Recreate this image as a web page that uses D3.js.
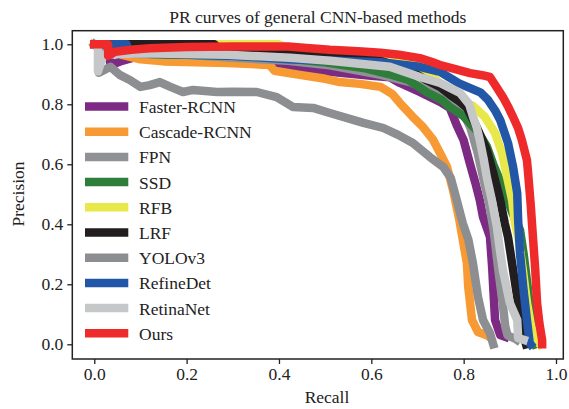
<!DOCTYPE html>
<html>
<head>
<meta charset="utf-8">
<script src="https://cdn.jsdelivr.net/npm/d3@7/dist/d3.min.js"></script>
<style>
  html, body { margin: 0; padding: 0; background: #fff; }
  svg { display: block; }
  text { font-family: "Liberation Serif", "Times New Roman", serif; fill: #222; }
</style>
</head>
<body>
<svg id="chart" width="569" height="409"></svg>
<script>
// Precision-recall pairs per detector: [recall, precision]
const fasterRCNN = [[0,1.0],[0.03,1.0],[0.035,0.93],[0.06,0.945],[0.1,0.962],[0.2,0.955],[0.3,0.945],[0.417,0.924],[0.51,0.908],[0.6,0.895],[0.64,0.89],[0.662,0.871],[0.705,0.841],[0.749,0.808],[0.77,0.788],[0.785,0.73],[0.8,0.68],[0.814,0.6],[0.825,0.54],[0.835,0.48],[0.842,0.424],[0.857,0.358],[0.862,0.25],[0.864,0.191],[0.868,0.081],[0.879,0.031],[0.89,0.025]];
const cascadeRCNN = [[0,1.0],[0.03,0.99],[0.06,0.965],[0.1,0.95],[0.15,0.943],[0.29,0.938],[0.38,0.931],[0.39,0.912],[0.445,0.898],[0.5,0.885],[0.532,0.874],[0.575,0.868],[0.62,0.858],[0.645,0.835],[0.662,0.804],[0.69,0.758],[0.712,0.724],[0.734,0.681],[0.749,0.637],[0.764,0.591],[0.777,0.514],[0.79,0.42],[0.797,0.358],[0.807,0.271],[0.81,0.191],[0.818,0.081],[0.831,0.041],[0.85,0.03],[0.855,0.025]];
const fpn = [[0,1.0],[0.02,0.975],[0.1,0.968],[0.2,0.965],[0.3,0.955],[0.42,0.945],[0.51,0.93],[0.62,0.898],[0.684,0.874],[0.749,0.831],[0.781,0.808],[0.8,0.77],[0.815,0.72],[0.83,0.64],[0.843,0.55],[0.855,0.47],[0.865,0.38],[0.875,0.25],[0.885,0.13],[0.89,0.06],[0.895,0.03],[0.91,0.02],[0.915,0.015]];
const ssd = [[0,1.0],[0.115,1.0],[0.12,0.968],[0.3,0.962],[0.4,0.955],[0.5,0.94],[0.583,0.921],[0.64,0.9],[0.68,0.881],[0.72,0.84],[0.753,0.814],[0.77,0.791],[0.8,0.76],[0.83,0.71],[0.85,0.66],[0.864,0.6],[0.875,0.56],[0.89,0.504],[0.905,0.44],[0.922,0.381],[0.93,0.3],[0.938,0.2],[0.945,0.1],[0.95,0.02],[0.955,0.0]];
const rfb = [[0,1.0],[0.4,1.0],[0.42,0.985],[0.55,0.978],[0.65,0.96],[0.7,0.93],[0.738,0.885],[0.76,0.85],[0.785,0.82],[0.82,0.795],[0.846,0.758],[0.868,0.704],[0.883,0.637],[0.894,0.558],[0.905,0.481],[0.911,0.404],[0.918,0.358],[0.928,0.25],[0.937,0.14],[0.945,0.07],[0.955,0.015],[0.965,0.0]];
const lrf = [[0,1.0],[0.26,1.0],[0.27,0.985],[0.45,0.975],[0.6,0.955],[0.68,0.915],[0.72,0.88],[0.749,0.858],[0.771,0.831],[0.792,0.808],[0.807,0.788],[0.82,0.75],[0.831,0.714],[0.85,0.648],[0.864,0.571],[0.879,0.481],[0.889,0.404],[0.896,0.358],[0.907,0.248],[0.918,0.138],[0.926,0.048],[0.935,0.0]];
const yolov3 = [[0,1.0],[0.008,1.0],[0.01,0.905],[0.035,0.925],[0.055,0.898],[0.077,0.881],[0.1,0.858],[0.12,0.864],[0.142,0.874],[0.165,0.858],[0.192,0.841],[0.214,0.848],[0.266,0.841],[0.3,0.842],[0.352,0.841],[0.395,0.824],[0.43,0.791],[0.474,0.788],[0.51,0.771],[0.583,0.738],[0.626,0.721],[0.658,0.698],[0.69,0.671],[0.727,0.624],[0.756,0.591],[0.772,0.555],[0.785,0.481],[0.798,0.404],[0.81,0.35],[0.82,0.271],[0.831,0.158],[0.842,0.081],[0.857,0.037],[0.864,0.0]];
const refineDet = [[0,1.0],[0.07,1.0],[0.075,0.972],[0.15,0.968],[0.3,0.962],[0.42,0.95],[0.52,0.945],[0.62,0.94],[0.705,0.925],[0.749,0.908],[0.79,0.87],[0.836,0.84],[0.853,0.814],[0.868,0.78],[0.879,0.748],[0.896,0.671],[0.907,0.591],[0.916,0.504],[0.918,0.414],[0.922,0.304],[0.929,0.191],[0.937,0.081],[0.943,0.004],[0.945,0.0]];
const retinaNet = [[0,1.0],[0.008,1.0],[0.008,0.91],[0.02,0.965],[0.1,0.97],[0.29,0.965],[0.424,0.955],[0.51,0.945],[0.64,0.925],[0.705,0.891],[0.749,0.871],[0.792,0.838],[0.812,0.8],[0.82,0.76],[0.828,0.724],[0.835,0.68],[0.843,0.62],[0.85,0.558],[0.861,0.481],[0.872,0.391],[0.878,0.32],[0.885,0.248],[0.9,0.138],[0.916,0.081],[0.918,0.021],[0.93,0.015]];
const ours = [[0,1.0],[0.03,1.0],[0.03,0.962],[0.045,0.975],[0.08,0.982],[0.12,0.987],[0.2,0.991],[0.3,0.993],[0.42,0.993],[0.46,0.988],[0.51,0.982],[0.58,0.976],[0.62,0.972],[0.66,0.965],[0.705,0.954],[0.73,0.942],[0.749,0.931],[0.78,0.918],[0.814,0.904],[0.84,0.897],[0.857,0.891],[0.87,0.86],[0.885,0.824],[0.897,0.79],[0.907,0.758],[0.918,0.72],[0.926,0.681],[0.937,0.614],[0.939,0.581],[0.945,0.47],[0.95,0.358],[0.955,0.25],[0.959,0.138],[0.964,0.07],[0.97,0.014],[0.97,0.0]];

const methodNames = ["Faster-RCNN","Cascade-RCNN","FPN","SSD","RFB","LRF","YOLOv3","RefineDet","RetinaNet","Ours"];
const methodCurves = [fasterRCNN, cascadeRCNN, fpn, ssd, rfb, lrf, yolov3, refineDet, retinaNet, ours];
const methodColors = ["#7d2a85","#f89a33","#909194","#2f7d3b","#e9e84a","#221e1f","#8d8e91","#2157a6","#c6c7c9","#ee2a2b"];
const xTicks = [0.0,0.2,0.4,0.6,0.8,1.0];
const yTicks = [0.0,0.2,0.4,0.6,0.8,1.0];

const svg = d3.select("#chart");
const plot = {left: 72.3, right: 563.3, top: 30.7, bottom: 359};

const x = d3.scaleLinear().domain([-0.0476, 1.0158]).range([plot.left, plot.right]);
const y = d3.scaleLinear().domain([-0.049, 1.0453]).range([plot.bottom, plot.top]);

const clipId = "plot-clip";
svg.append("defs").append("clipPath").attr("id", clipId)
  .append("rect").attr("x", plot.left).attr("y", plot.top)
  .attr("width", plot.right - plot.left).attr("height", plot.bottom - plot.top);

const line = d3.line().x(d => x(d[0])).y(d => y(d[1]));

const curves = svg.append("g").attr("clip-path", `url(#${clipId})`);
methodCurves.forEach((data, i) => {
  curves.append("path")
    .attr("d", line(data))
    .attr("fill", "none")
    .attr("stroke", methodColors[i])
    .attr("stroke-width", 8.5)
    .attr("stroke-linejoin", "round")
    .attr("stroke-linecap", "square");
});

// Axes
const fmt = d3.format(".1f");
const xAxis = svg.append("g").attr("transform", `translate(0,${plot.bottom})`)
  .call(d3.axisBottom(x).tickValues(xTicks).tickFormat(fmt).tickSize(5).tickPadding(4));
const yAxis = svg.append("g").attr("transform", `translate(${plot.left},0)`)
  .call(d3.axisLeft(y).tickValues(yTicks).tickFormat(fmt).tickSize(5).tickPadding(4));
[xAxis, yAxis].forEach(a => {
  a.select(".domain").remove();
  a.selectAll(".tick line").attr("stroke", "#222").attr("stroke-width", 1.3);
  a.selectAll(".tick text").style("font-family", "Liberation Serif, serif")
    .style("font-size", "17.5px").attr("fill", "#222");
});

// Frame
svg.append("rect")
  .attr("x", plot.left).attr("y", plot.top)
  .attr("width", plot.right - plot.left).attr("height", plot.bottom - plot.top)
  .attr("fill", "none").attr("stroke", "#222").attr("stroke-width", 1.5);

// Title and axis labels
svg.append("text").attr("x", (plot.left + plot.right) / 2).attr("y", 23)
  .attr("text-anchor", "middle").style("font-size", "17.5px")
  .text("PR curves of general CNN-based methods");
svg.append("text").attr("x", 327).attr("y", 403)
  .attr("text-anchor", "middle").style("font-size", "17.5px")
  .text("Recall");
svg.append("text").attr("transform", "translate(24,194) rotate(-90)")
  .attr("text-anchor", "middle").style("font-size", "17.5px")
  .text("Precision");

// Legend
const legend = svg.append("g");
methodNames.forEach((name, i) => {
  const cy = 106.5 + i * 25.2;
  legend.append("line")
    .attr("x1", 85).attr("x2", 128.3).attr("y1", cy).attr("y2", cy)
    .attr("stroke", methodColors[i]).attr("stroke-width", 8.5);
  legend.append("text")
    .attr("x", 139).attr("y", cy + 6.5)
    .style("font-size", "17.5px")
    .text(name);
});
</script>
</body>
</html>
